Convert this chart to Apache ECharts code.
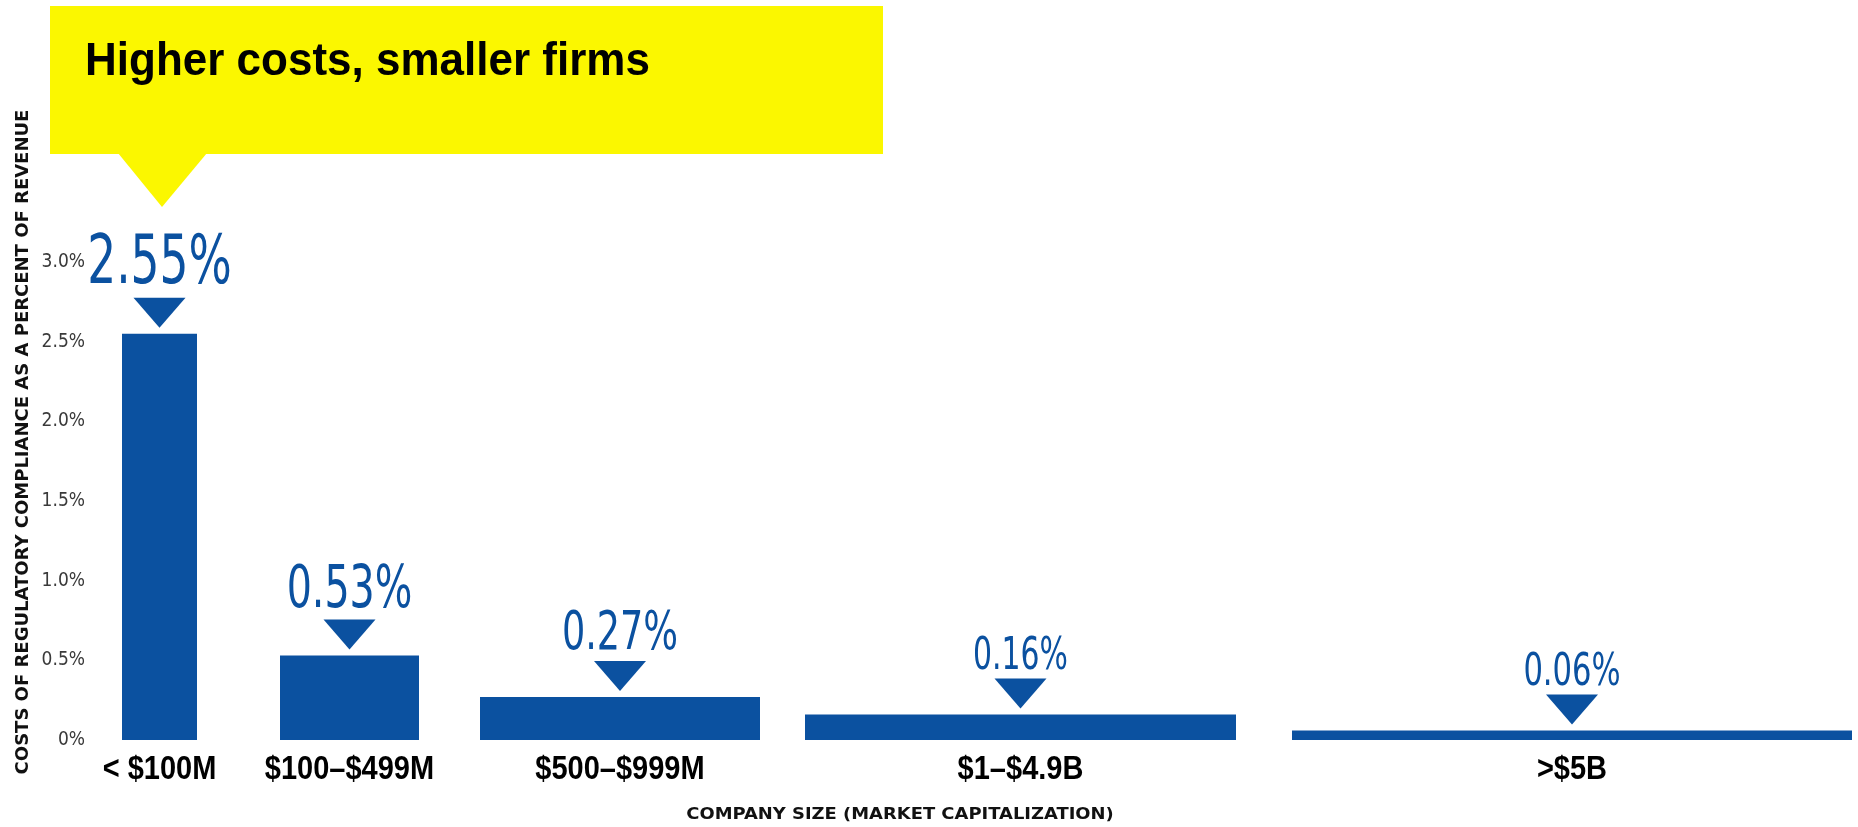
<!DOCTYPE html>
<html lang="en">
<head>
    <meta charset="UTF-8">
    <title>Higher costs, smaller firms</title>
    <script src="https://cdn.jsdelivr.net/npm/echarts@6/dist/echarts.min.js"></script>
    <style>
        html, body { margin: 0; padding: 0; background: #ffffff; }
        #main { width: 1858px; height: 827px; }
    </style>
</head>
<body>
<div id="main"></div>
<script>
    // chart data
    var categories = ['< $100M', '$100–$499M', '$500–$999M', '$1–$4.9B', '>$5B'];
    var costShare = [2.55, 0.53, 0.27, 0.16, 0.06];   // % of revenue
    var yTicks = [0, 0.5, 1.0, 1.5, 2.0, 2.5, 3.0];
    var chartTitle = 'Higher costs, smaller firms';
    var yTitle = 'COSTS OF REGULATORY COMPLIANCE AS A PERCENT OF REVENUE';
    var xTitle = 'COMPANY SIZE (MARKET CAPITALIZATION)';

    // layout: horizontal span of each bar on a hidden 0..1760 x axis, value label sizes
    var barSpans = [[27, 102], [185, 324], [385, 665], [710, 1141], [1197, 1757]];
    var valueFontSizes = [61, 53, 49, 40, 41];

    var blue = '#0b51a0';
    var yellow = '#fbf700';
    var narrow = '"Liberation Sans Narrow", "DejaVu Sans Condensed", "Roboto Condensed", sans-serif';
    var bold = '"Liberation Sans", Arial, sans-serif';

    function renderBar(params, api) {
        var i = params.dataIndex;
        var v = api.value(1);
        var p0 = api.coord([barSpans[i][0], 0]);
        var p1 = api.coord([barSpans[i][1], v]);
        var cx = (p0[0] + p1[0]) / 2;
        var top = p1[1];
        var tipY = top - 6;
        var baseY = tipY - 30;
        return {
            type: 'group',
            children: [
                {
                    type: 'rect',
                    shape: { x: p0[0], y: top, width: p1[0] - p0[0], height: p0[1] - top },
                    style: { fill: blue }
                },
                {
                    type: 'polygon',
                    shape: { points: [[cx - 26, baseY], [cx + 26, baseY], [cx, tipY]] },
                    style: { fill: blue }
                },
                {
                    // condensed look: squeeze sideways, stretch up from the bottom
                    type: 'text',
                    x: cx, y: baseY + 1,
                    scaleX: 0.83, scaleY: 1.1,
                    style: {
                        text: v.toFixed(2) + '%',
                        fill: blue,
                        fontFamily: narrow,
                        fontSize: valueFontSizes[i],
                        align: 'center',
                        verticalAlign: 'bottom'
                    }
                },
                {
                    type: 'text',
                    x: cx, y: p0[1] + 30,
                    scaleY: 1.12,
                    style: {
                        text: categories[i],
                        fill: '#000',
                        fontFamily: bold,
                        fontWeight: 'bold',
                        fontSize: 29,
                        align: 'center',
                        verticalAlign: 'middle'
                    }
                }
            ]
        };
    }

    var option = {
        backgroundColor: '#ffffff',
        animation: false,
        grid: { left: 95, right: 3, top: 262, bottom: 87 },
        xAxis: {
            type: 'value',
            min: 0,
            max: 1760,
            show: false
        },
        yAxis: {
            type: 'value',
            min: yTicks[0],
            max: yTicks[yTicks.length - 1],
            interval: yTicks[1] - yTicks[0],
            axisLine: { show: false },
            axisTick: { show: false },
            splitLine: { show: false },
            axisLabel: {
                margin: 10,
                color: '#3a3a3a',
                fontFamily: narrow,
                fontSize: 19,
                formatter: function (val) {
                    return val === 0 ? '0%' : val.toFixed(1) + '%';
                }
            }
        },
        graphic: [
            {
                type: 'rect',
                shape: { x: 50, y: 6, width: 833, height: 148 },
                style: { fill: yellow }
            },
            {
                type: 'polygon',
                shape: { points: [[118, 153], [207, 153], [162, 207]] },
                style: { fill: yellow }
            },
            {
                type: 'text',
                x: 85, y: 62,
                scaleY: 1.06,
                style: {
                    text: chartTitle,
                    fill: '#000',
                    fontFamily: bold,
                    fontWeight: 'bold',
                    fontSize: 44,
                    verticalAlign: 'middle'
                }
            },
            {
                type: 'text',
                x: 23, y: 442,
                rotation: Math.PI / 2,
                style: {
                    text: yTitle,
                    fill: '#111',
                    fontFamily: '"DejaVu Sans", sans-serif',
                    fontWeight: 'bold',
                    fontSize: 18,
                    align: 'center',
                    verticalAlign: 'middle'
                }
            },
            {
                type: 'text',
                x: 900, y: 815,
                scaleX: 1.12,
                style: {
                    text: xTitle,
                    fill: '#111',
                    fontFamily: '"DejaVu Sans", sans-serif',
                    fontWeight: 'bold',
                    fontSize: 16,
                    align: 'center',
                    verticalAlign: 'middle'
                }
            }
        ],
        series: [{
            type: 'custom',
            clip: false,
            renderItem: renderBar,
            data: costShare.map(function (v, i) { return [i, v]; })
        }]
    };

    var myChart = echarts.init(document.getElementById('main'));
    myChart.setOption(option);
</script>
</body>
</html>
